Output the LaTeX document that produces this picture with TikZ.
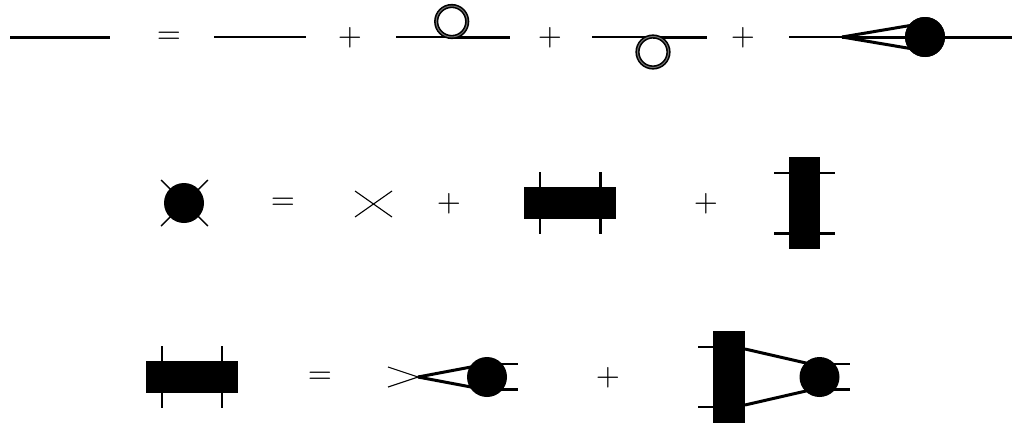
\documentclass[tikz,border=0pt]{standalone}
\tikzset{
  thinl/.style={line width=2pt},
  thinx/.style={line width=1.1pt},
  thickl/.style={line width=3pt},
  blob/.style={circle,fill=black,inner sep=0pt,minimum size=40pt},
  hbox/.style={rectangle,fill=black,inner sep=0pt,minimum width=92pt,minimum height=32pt},
  vbox/.style={rectangle,fill=black,inner sep=0pt,minimum width=31.5pt,minimum height=92pt},
  ring/.style={circle,draw=black,line width=1.6pt,double=black!55,double distance=1pt,inner sep=0pt,minimum size=31pt},
  sym/.style={inner sep=0pt,scale=3.1,text=black},
}
\begin{document}
\begin{tikzpicture}[x=1pt,y=-1pt]
\useasboundingbox (0,0) rectangle (1012,423);
% row 1
\coordinate (a1) at (10,37); \coordinate (a2) at (110,37);
\draw[thickl] (a1)--(a2);
\node[sym] (eq1) at (169,38) {=};
\coordinate (b1) at (214,37); \coordinate (b2) at (306,37);
\draw[thinl] (b1)--(b2);
\node[sym] (p1) at (350,38) {+};
\coordinate (c1) at (396,37); \coordinate (c2) at (452,37); \coordinate (c3) at (510,37);
\draw[thinl] (c1)--(c2); \draw[thickl] (c2)--(c3);
\node[ring] (r1) at (451.7,21.5) {};
\node[sym] (p2) at (550,38) {+};
\coordinate (d1) at (592,37); \coordinate (d2) at (653,37); \coordinate (d3) at (707,37);
\draw[thinl] (d1)--(d2); \draw[thickl] (d2)--(d3);
\node[ring] (r2) at (653,52) {};
\node[sym] (p3) at (743,38) {+};
\coordinate (e1) at (789,37); \coordinate (e2) at (842,37);
\coordinate (e3) at (925,23); \coordinate (e4) at (925,51); \coordinate (e5) at (1012,37);
\node[blob] (e0) at (925,37) {};
\draw[thinl] (e1)--(e2);
\draw[thickl] (e2)--(e3); \draw[thickl] (e2)--(e4); \draw[thickl] (e2)--(e0.center); \draw[thickl] (e0.center)--(e5);
\node[blob] (e9) at (e0) {};
% row 2
\coordinate (f1) at (161,180); \coordinate (f2) at (208,180);
\coordinate (f3) at (161,226); \coordinate (f4) at (208,226);
\draw[line width=1.4pt] (f1)--(f4); \draw[line width=1.4pt] (f2)--(f3);
\node[blob] (f0) at (184,203) {};
\node[sym] (eq2) at (283,204) {=};
\coordinate (g1) at (355,191); \coordinate (g2) at (392,217);
\coordinate (g3) at (355,217); \coordinate (g4) at (392,191);
\draw[thinx] (g1)--(g2); \draw[thinx] (g3)--(g4);
\node[sym] (p4) at (449,204) {+};
\coordinate (h1) at (540,172); \coordinate (h2) at (540,234);
\coordinate (h3) at (600.5,172); \coordinate (h4) at (600.5,234);
\draw[thinl] (h1)--(h2); \draw[thickl] (h3)--(h4);
\node[hbox] (h0) at (570,203) {};
\node[sym] (p5) at (706,204) {+};
\coordinate (i1) at (774,173); \coordinate (i2) at (835,173);
\coordinate (i3) at (774,233); \coordinate (i4) at (835,233);
\draw[thinl] (i1)--(i2); \draw[thickl] (i3)--(i4);
\node[vbox] (i0) at (804.5,203) {};
% row 3
\coordinate (j1) at (162,346); \coordinate (j2) at (162,408);
\coordinate (j3) at (222,346); \coordinate (j4) at (222,408);
\draw[thinl] (j1)--(j2); \draw[thinl] (j3)--(j4);
\node[hbox] (j0) at (192,377) {};
\node[sym] (eq3) at (320,378) {=};
\coordinate (k1) at (388,367); \coordinate (k2) at (388,387); \coordinate (k3) at (418,377);
\coordinate (k4) at (487,364); \coordinate (k5) at (487,390);
\coordinate (k6) at (518,364); \coordinate (k7) at (518,389.5);
\coordinate (k8) at (487,389.5);
\draw[thinx] (k1)--(k3); \draw[thinx] (k2)--(k3);
\draw[thickl] (k3)--(k4); \draw[thickl] (k3)--(k5);
\draw[thinl] (k4)--(k6); \draw[thickl] (k8)--(k7);
\node[blob] (k0) at (487,377) {};
\node[sym] (p6) at (608,378) {+};
\coordinate (l1) at (698,347); \coordinate (l2) at (729,347);
\coordinate (l3) at (698,407); \coordinate (l4) at (729,407);
\coordinate (l5) at (745,349); \coordinate (l6) at (819,366);
\coordinate (l7) at (745,405); \coordinate (l8) at (819,388);
\coordinate (l9) at (819,364); \coordinate (l10) at (850,364);
\coordinate (l11) at (819,389.5); \coordinate (l12) at (850,389.5);
\draw[thinl] (l1)--(l2); \draw[thinl] (l3)--(l4);
\draw[thickl] (l5)--(l6); \draw[thickl] (l7)--(l8);
\draw[thinl] (l9)--(l10); \draw[thickl] (l11)--(l12);
\node[vbox] (l0) at (729,377) {};
\node[blob] (m0) at (819.5,377) {};
\end{tikzpicture}
\end{document}
